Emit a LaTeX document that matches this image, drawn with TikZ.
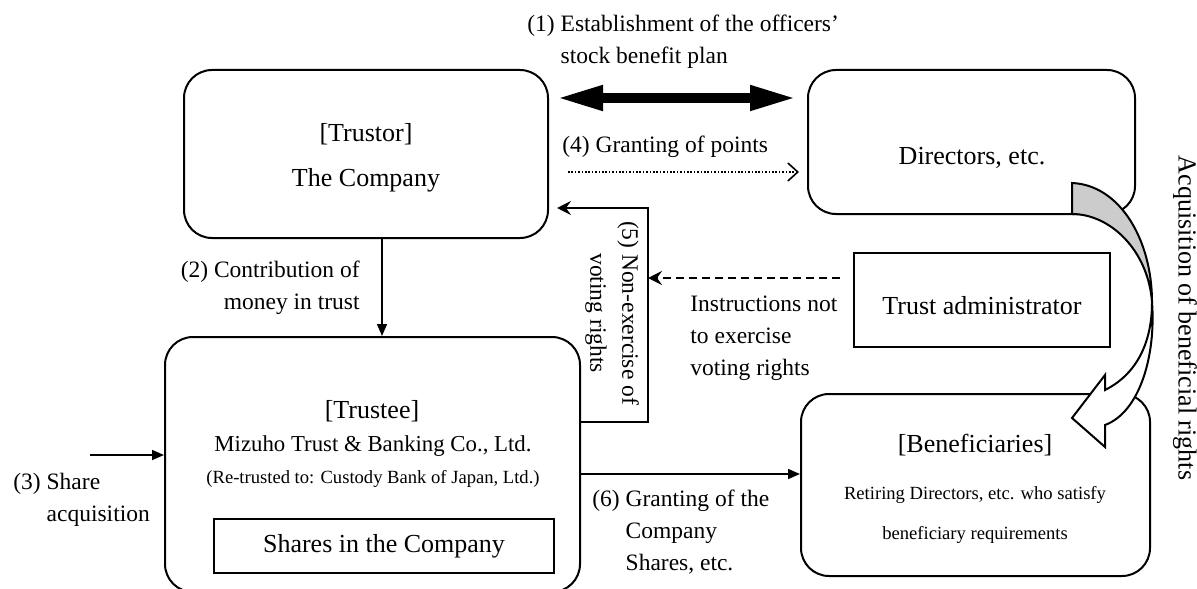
\documentclass[tikz,border=0pt]{standalone}
\usepackage{fontspec}
\setmainfont{Liberation Serif}
\usetikzlibrary{arrows.meta}
\usetikzlibrary{calc}

\begin{document}
\begin{tikzpicture}[x=0.5pt,y=-0.5pt,
  rbox/.style={draw,line width=1pt,rounded corners=14pt,inner sep=0pt},
  sbox/.style={draw,line width=1pt,inner sep=0pt},
  big/.style={font=\fontsize{13}{16}\selectfont},
  lbl/.style={font=\fontsize{11.75}{16}\selectfont,inner sep=0pt,align=left},
  small/.style={font=\fontsize{9.3}{11}\selectfont},
  conn/.style={line width=0.8pt,-{Triangle[length=6pt,width=5pt]}}]
\useasboundingbox (0,0) rectangle (1197,588);
\clip (0,0) rectangle (1197,588);
% the boxes
\node (trustor) [rbox,minimum width=182pt,minimum height=84pt] at (366,154) {};
\node (directors) [rbox,minimum width=163.5pt,minimum height=72pt] at (971.5,142) {};
\node (admin) [sbox,minimum width=128pt,minimum height=47pt] at (982,300) {};
\node (trustee) [rbox,minimum width=207.5pt,minimum height=127.5pt] at (372.5,464.5) {};
\node (benef) [rbox,minimum width=174.5pt,minimum height=91pt] at (975.5,485) {};
\node (shares) [sbox,big,minimum width=170pt,minimum height=27pt] at (384,546) {Shares in the Company};
% texts in the boxes
\node (trustorhead) [big] at (366,134) {[Trustor]};
\node (trustorname) [big] at (366,180) {The Company};
\node (dirname) [big] at (972,158) {Directors, etc.};
\node (adminname) [big] at (982,306) {Trust administrator};
\node (trusteehead) [big] at (372,411) {[Trustee]};
\node (trusteename) [font=\fontsize{11.4}{14}\selectfont] at (373,446) {Mizuho Trust \& Banking Co., Ltd.};
\node (retrust) [small] at (373,479) {(Re-trusted to: Custody Bank of Japan, Ltd.)};
\node (benefhead) [big] at (975,445) {[Beneficiaries]};
\node (benefline1) [small] at (975,495) {Retiring Directors, etc. who satisfy};
\node (benefline2) [small] at (975,535) {beneficiary requirements};
% rows and bends
\coordinate (r1) at (0,98);
\coordinate (r4) at (0,172);
\coordinate (bend5) at (648,422);
\coordinate (top5) at (648,208);
\coordinate (rd) at (0,278);
\coordinate (c2) at (382,0);
\coordinate (src3) at (90,455);
\coordinate (r6) at (0,474);
% (1) and (4)
\draw[line width=5pt,{Triangle[length=23.5pt,width=11.5pt]}-{Triangle[length=23.5pt,width=11.5pt]},shorten <=3.5pt,shorten >=5pt] (trustor.east |- r1) -- (directors.west |- r1);
\draw[line width=0.8pt,dash pattern=on 0.8pt off 0.9pt,-{Straight Barb[length=5pt,width=9pt]},shorten <=9.5pt,shorten >=4pt] (trustor.east |- r4) -- (directors.west |- r4);
% (2), (3), (6)
\draw[conn] (trustor.south -| c2) -- (trustee.north -| c2);
\draw[conn] (src3) -- (trustee.west |- src3);
\draw[conn] (trustee.east |- r6) -- (benef.west |- r6);
% (5) and the instructions
\draw[line width=0.8pt,-{Stealth[length=7pt,width=7pt,inset=2.5pt]},shorten >=4pt] (trustee.east |- bend5) -- (bend5) -- (top5) -- (trustor.east |- top5);
\draw[line width=0.8pt,dash pattern=on 4pt off 2.5pt,-{Stealth[length=7pt,width=7pt,inset=2.5pt]},shorten <=6.5pt] (admin.west |- rd) -- (top5 |- rd);
% labels
\node (lbl1) [lbl,anchor=west] at (527,41.5) {(1) Establishment of the officers'\\\hphantom{(1)~}stock benefit plan};
\node (lbl4) [lbl,anchor=west] at (562,147) {(4) Granting of points};
\node (lbl2) [lbl,anchor=east,align=right] at (360,288) {(2) Contribution of\\money in trust};
\node (lbl3) [lbl,anchor=west] at (13,500) {(3) Share\\\hphantom{(3)~}acquisition};
\node (lbl5) [lbl,anchor=west] at (690,338) {Instructions not\\to exercise\\voting rights};
\node (lbl6) [lbl,anchor=west] at (592,532) {(6) Granting of the\\\hphantom{(6)~}Company\\\hphantom{(6)~}Shares, etc.};
\node (lbl5v) [lbl,align=center,rotate=-90] at (612,313) {(5) Non-exercise of\\voting rights};
\node (acq) [big,rotate=-90] at (1185,318) {Acquisition of beneficial rights};
% the curved arrow
%     gray back side
\draw[line width=1pt,fill=black!20] (1072,183) .. controls (1120,185) and (1152,240) .. (1152,302) .. controls (1148,250) and (1110,214) .. (1072,214) -- cycle;
%     white front side
\draw[line width=1pt,fill=white] (1152,302) .. controls (1152,345) and (1135,375) .. (1105,390) -- (1105,375) -- (1072,418) -- (1105,447) -- (1105,425) .. controls (1140,412) and (1156,355) .. (1152,302) -- cycle;
\end{tikzpicture}
\end{document}
